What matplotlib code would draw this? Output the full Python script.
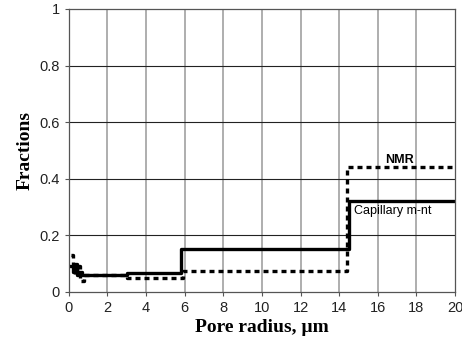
import numpy as np
import matplotlib.pyplot as plt

# step data (x = left edge of each step)
cap_x = [0.1, 0.2, 0.3, 0.4, 0.5, 0.7, 3.0, 5.8, 14.5, 20.0]
cap_y = [0.09, 0.07, 0.10, 0.06, 0.07, 0.06, 0.065, 0.15, 0.32, 0.32]
nmr_x = [0.1, 0.2, 0.3, 0.4, 0.6, 0.8, 3.0, 5.9, 14.4, 20.0]
nmr_y = [0.13, 0.08, 0.06, 0.09, 0.04, 0.06, 0.05, 0.075, 0.44, 0.44]

x_ticks = np.arange(0, 21, 2)
y_ticks = [0, 0.2, 0.4, 0.6, 0.8, 1]
y_labels = ['0', '0.2', '0.4', '0.6', '0.8', '1']

fig = plt.figure(figsize=(4.62, 3.43), dpi=100)
ax = fig.add_axes([0.149, 0.149, 0.836, 0.825])

# grid: grey verticals, dark horizontals
for xv in x_ticks[1:-1]:
    ax.axvline(xv, color='#a8a8a8', lw=1.3, zorder=0)
for yv in y_ticks[1:-1]:
    ax.axhline(yv, color='#222222', lw=0.8, zorder=0)

ax.step(nmr_x, nmr_y, where='post', color='black', lw=2.4, dashes=(1.5, 1.2))
ax.step(cap_x, cap_y, where='post', color='black', lw=2.4)

ax.text(16.4, 0.455, 'NMR', fontsize=9, fontweight='bold', family='Liberation Sans')
ax.text(14.75, 0.275, 'Capillary m-nt', fontsize=9, family='Liberation Sans')

ax.set_xlim(0, 20)
ax.set_ylim(0, 1)
ax.set_xticks(x_ticks)
ax.set_yticks(y_ticks)
ax.set_yticklabels(y_labels)
ax.tick_params(labelsize=10.5, length=3, width=0.8, color='#555555')
for lab in ax.get_xticklabels() + ax.get_yticklabels():
    lab.set_family('Liberation Sans')
    lab.set_color('#222222')
for sp in ax.spines.values():
    sp.set_color('#555555')
    sp.set_linewidth(0.9)

ax.set_xlabel('Pore radius, µm', fontsize=14, fontweight='bold', family='Liberation Serif', labelpad=3)
ax.set_ylabel('Fractions', fontsize=14, fontweight='bold', family='Liberation Serif', labelpad=4)

fig.savefig('out.png', dpi=100)
